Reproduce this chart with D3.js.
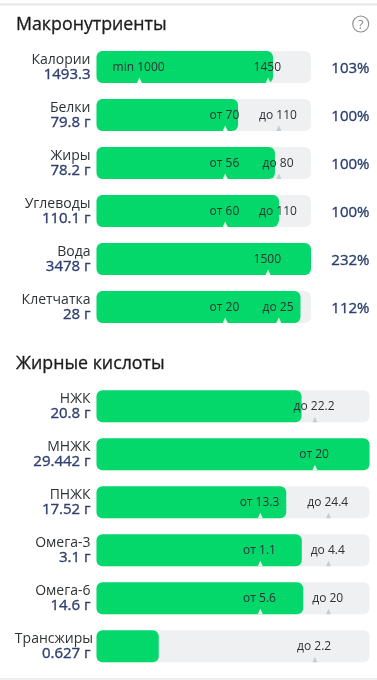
<!DOCTYPE html>
<html>
<head>
<meta charset="utf-8">
<script src="https://cdn.jsdelivr.net/npm/d3@7"></script>
<style>
html, body { margin: 0; padding: 0; background: #fff; }
svg { display: block; font-family: "Open Sans", sans-serif; filter: blur(0.3px); }
</style>
</head>
<body>
<svg id="chart"></svg>
<script>
const macroNames = ["Калории", "Белки", "Жиры", "Углеводы", "Вода", "Клетчатка"];
const macroAmounts = ["1493.3", "79.8 г", "78.2 г", "110.1 г", "3478 г", "28 г"];
const macroPercents = ["103%", "100%", "100%", "100%", "232%", "112%"];
// share of the track that is filled, %
const macroFill = [82.3, 66, 83.2, 85.1, 100, 95.1];
const macroLowLabels = ["min 1000", "от 70", "от 56", "от 60", "", "от 20"];
const macroLowAt = [20, 60, 60, 60, null, 60];
const macroHighLabels = ["1450", "до 110", "до 80", "до 110", "1500", "до 25"];
const macroHighAt = [80, 85, 85, 85, 80, 85];

const fatNames = ["НЖК", "МНЖК", "ПНЖК", "Омега-3", "Омега-6", "Трансжиры"];
const fatAmounts = ["20.8 г", "29.442 г", "17.52 г", "3.1 г", "14.6 г", "0.627 г"];
const fatFill = [75.1, 100, 69.5, 75.2, 75.7, 22.8];
const fatLowLabels = ["", "от 20", "от 13.3", "от 1.1", "от 5.6", ""];
const fatLowAt = [null, 80, 60, 60, 60, null];
const fatHighLabels = ["до 22.2", "", "до 24.4", "до 4.4", "до 20", "до 2.2"];
const fatHighAt = [80, null, 85, 85, 85, 80];

const width = 377, height = 680;
const svg = d3.select("#chart").attr("width", width).attr("height", height);

const green = "#05d86b", track = "#eef0f2", navy = "#2f3f6f", ink = "#2e3236";

function drawGroup(opts) {
    const g = svg.append("g");
    const x = d3.scaleLinear().domain([0, 100]).range([96.5, opts.right]);
    const y = d3.scaleBand()
        .domain(opts.names)
        .range([opts.top, opts.top + 48 * opts.names.length - 16])
        .paddingInner(1 - 32 / 48)
        .paddingOuter(0);

    const rows = g.selectAll("g.row")
        .data(opts.names)
        .enter().append("g")
        .attr("class", "row")
        .attr("transform", d => `translate(0, ${y(d)})`);

    rows.append("rect")
        .attr("x", x(0))
        .attr("width", x(100) - x(0))
        .attr("height", y.bandwidth())
        .attr("rx", 6)
        .attr("fill", track);

    rows.append("rect")
        .attr("x", x(0))
        .attr("width", (d, i) => x(opts.fill[i]) - x(0))
        .attr("height", y.bandwidth())
        .attr("rx", 6)
        .attr("fill", green);

    rows.append("text")
        .text(d => d)
        .attr("x", d => d === "Трансжиры" ? 93 : 90.5)
        .attr("y", 12.5)
        .attr("text-anchor", "end")
        .style("font-size", "14px")
        .attr("fill", ink);

    rows.append("text")
        .text((d, i) => opts.amounts[i])
        .attr("x", 90.5)
        .attr("y", 28)
        .attr("text-anchor", "end")
        .style("font-size", "15px")
        .attr("stroke", navy)
        .attr("stroke-width", 0.35)
        .attr("fill", navy);

    if (opts.percents) {
        rows.append("text")
            .text((d, i) => opts.percents[i])
            .attr("x", 369.5)
            .attr("y", 22)
            .attr("text-anchor", "end")
            .style("font-size", "15px")
            .attr("stroke", navy)
            .attr("stroke-width", 0.35)
            .attr("fill", navy);
    }

    [[opts.lowAt, opts.lowLabels], [opts.highAt, opts.highLabels]].forEach(function (pair) {
        const at = pair[0], labels = pair[1];
        const marks = rows.filter((d, i) => at[i] !== null);
        const indexOf = d => opts.names.indexOf(d);
        marks.append("path")
            .attr("d", d => {
                const mx = x(at[indexOf(d)]), b = y.bandwidth();
                return `M${mx - 2.5},${b}L${mx},${b - 5.5}L${mx + 2.5},${b}Z`;
            })
            .attr("fill", d => at[indexOf(d)] < opts.fill[indexOf(d)] ? "#e4f8ec" : "#c6ccd1");
        marks.append("text")
            .text(d => labels[indexOf(d)])
            .attr("x", d => x(at[indexOf(d)]) - 0.8)
            .attr("y", 19.7)
            .attr("text-anchor", "middle")
            .style("font-size", "12px")
            .attr("fill", ink);
    });
}

// top and bottom edges of the screen card
svg.append("rect").attr("x", 0).attr("y", 3.5).attr("width", width).attr("height", 2).attr("fill", "#e6e7e8");
svg.append("rect").attr("x", 0).attr("y", 678).attr("width", width).attr("height", 2).attr("fill", "#eeeeee");

svg.selectAll("text.title")
    .data([["Макронутриенты", 30], ["Жирные кислоты", 369]])
    .enter().append("text")
    .attr("class", "title")
    .text(d => d[0])
    .attr("x", 16)
    .attr("y", d => d[1])
    .style("font-size", "17.8px")
    .attr("stroke", "#1c1c1c")
    .attr("stroke-width", 0.3)
    .attr("fill", "#1c1c1c");

// help icon
svg.append("circle").attr("cx", 360.7).attr("cy", 24).attr("r", 8)
    .attr("fill", "none").attr("stroke", "#8a8a8a").attr("stroke-width", 1.1);
svg.append("text").text("?")
    .attr("x", 360.7).attr("y", 28.7).attr("text-anchor", "middle")
    .style("font-size", "13px").attr("fill", "#8a8a8a");

drawGroup({
    names: macroNames, amounts: macroAmounts, percents: macroPercents, fill: macroFill,
    lowLabels: macroLowLabels, lowAt: macroLowAt, highLabels: macroHighLabels, highAt: macroHighAt,
    top: 51, right: 311
});
drawGroup({
    names: fatNames, amounts: fatAmounts, fill: fatFill,
    lowLabels: fatLowLabels, lowAt: fatLowAt, highLabels: fatHighLabels, highAt: fatHighAt,
    top: 390.3, right: 369.5
});
</script>
</body>
</html>
